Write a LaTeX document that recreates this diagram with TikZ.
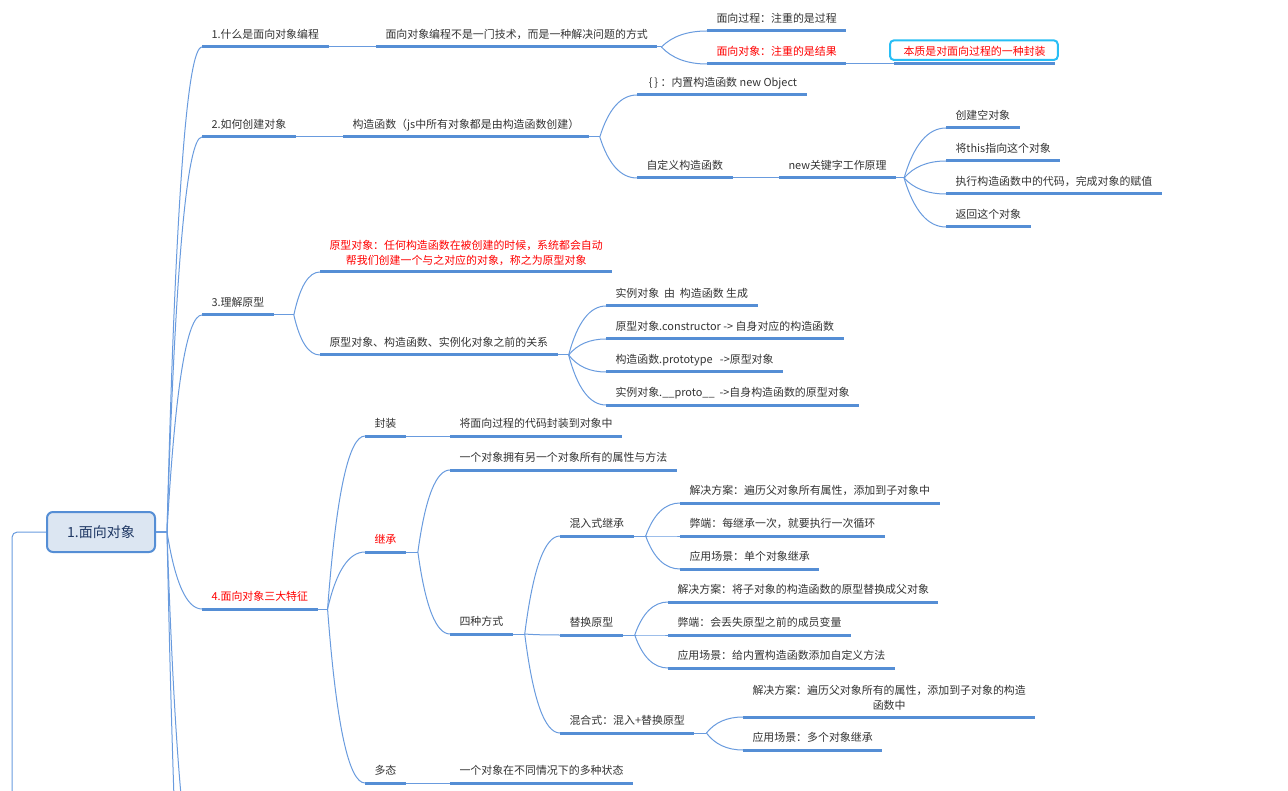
\documentclass[tikz,border=0pt]{standalone}
\usepackage{fontspec}
\newfontfamily\cjk{Noto Sans CJK SC}
\usetikzlibrary{calc}

\definecolor{ulblue}{RGB}{85,142,213}
\definecolor{lnblue}{RGB}{105,155,222}
\definecolor{ink}{RGB}{51,51,51}
\definecolor{hotred}{RGB}{255,0,0}
\definecolor{rootfill}{RGB}{220,230,242}
\definecolor{rootink}{RGB}{31,56,100}
\definecolor{hlcyan}{RGB}{40,190,245}

\tikzset{every picture/.style={line width=0.75pt}}
\tikzset{
  uline/.style={draw=ulblue, line width=2.25pt},
  topic/.style={anchor=south west, inner xsep=6.75pt, inner ysep=4.5pt,
    text height=7pt, text depth=1.5pt, text=ink, font=\cjk\fontsize{8.2}{11.25}\selectfont,
    append after command={\pgfextra{\let\topicnode\tikzlastnode}
      (\topicnode.south west) edge[uline] (\topicnode.south east)}},
  twoline/.style={align=center, text height=, text depth=},
  redtext/.style={text=hotred},
  rootbox/.style={draw=ulblue, line width=1.5pt, fill=rootfill, rounded corners=4.5pt,
    minimum width=81pt, minimum height=30pt, text=rootink, font=\cjk\fontsize{10.5}{12}\selectfont},
  hlbox/.style={draw=hlcyan, line width=1.5pt, rounded corners=3pt},
  conn/.style={draw=lnblue, line width=0.75pt},
  branch/.style={to path={let \p1=(\tikztostart), \p2=(\tikztotarget) in
    .. controls ({\x1+0.233*(\x2-\x1)},{\y1+0.667*(\y2-\y1)}) and ({\x2-0.433*(\x2-\x1)},\y2) .. (\p2)}}
}

\begin{document}
\begin{tikzpicture}[x=0.75pt,y=0.75pt,yscale=-1,xscale=1]
%diagram window 1288 x 791
\clip (0,0) rectangle (1288,791);

% Root Node
\draw (101,532) node [rootbox] (root) {1.面向对象};

% Text Node
\draw (202,47) node [topic] (b1) {1.什么是面向对象编程};
% Text Node
\draw (376,47) node [topic] (b1a) {面向对象编程不是一门技术，而是一种解决问题的方式};
% Text Node
\draw (707,31) node [topic] (b1a1) {面向过程：注重的是过程};
% Text Node
\draw (707,64) node [topic, redtext] (b1a2) {面向对象：注重的是结果};
% Text Node
\draw (894,64) node [topic, redtext] (ess) {本质是对面向过程的一种封装};
%Shape: Rectangle
\draw [hlbox] ([xshift=-3pt,yshift=-3pt]ess.south west) rectangle ([xshift=2pt,yshift=0.5pt]ess.north east);

% Text Node
\draw (202,137) node [topic] (b2) {2.如何创建对象};
% Text Node
\draw (343,137) node [topic] (b2a) {构造函数（js中所有对象都是由构造函数创建）};
% Text Node
\draw (637,95) node [topic] (b2a1) {\ \{\,\}\ ：内置构造函数 new Object};
% Text Node
\draw (637,178) node [topic] (b2a2) {自定义构造函数};
% Text Node
\draw (779,178) node [topic] (b2a2a) {new关键字工作原理};
% Text Node
\draw (946,128) node [topic] (w1) {创建空对象};
% Text Node
\draw (946,161) node [topic] (w2) {将this指向这个对象};
% Text Node
\draw (946,194) node [topic] (w3) {执行构造函数中的代码，完成对象的赋值};
% Text Node
\draw (946,227) node [topic] (w4) {返回这个对象};

% Text Node
\draw (202,315) node [topic] (b3) {3.理解原型};
% Text Node
\draw (320,272) node [topic, twoline, redtext] (b3a) {原型对象：任何构造函数在被创建的时候，系统都会自动\\帮我们创建一个与之对应的对象，称之为原型对象};
% Text Node
\draw (320,355) node [topic] (b3b) {原型对象、构造函数、实例化对象之前的关系};
% Text Node
\draw (606,306) node [topic] (r1) {实例对象~~由~~构造函数 生成};
% Text Node
\draw (606,339) node [topic] (r2) {原型对象.constructor -> 自身对应的构造函数};
% Text Node
\draw (606,372) node [topic] (r3) {构造函数.prototype~~~->原型对象};
% Text Node
\draw (606,405) node [topic] (r4) {实例对象.\_\_proto\_\_~~->自身构造函数的原型对象};

% Text Node
\draw (202,609) node [topic, redtext] (b4) {4.面向对象三大特征};
% Text Node
\draw (365,436) node [topic] (b4a) {封装};
% Text Node
\draw (450,436) node [topic] (b4a1) {将面向过程的代码封装到对象中};
% Text Node
\draw (365,552) node [topic, redtext] (b4b) {继承};
% Text Node
\draw (450,470) node [topic] (b4b1) {一个对象拥有另一个对象所有的属性与方法};
% Text Node
\draw (450,634) node [topic] (b4b2) {四种方式};
% Text Node
\draw (560,536) node [topic] (m1) {混入式继承};
% Text Node
\draw (680,503) node [topic] (m1a) {解决方案：遍历父对象所有属性，添加到子对象中};
% Text Node
\draw (680,536) node [topic] (m1b) {弊端：每继承一次，就要执行一次循环};
% Text Node
\draw (680,569) node [topic] (m1c) {应用场景：单个对象继承};
% Text Node
\draw (560,635) node [topic] (m2) {替换原型};
% Text Node
\draw (668,602) node [topic] (m2a) {解决方案：将子对象的构造函数的原型替换成父对象};
% Text Node
\draw (668,635) node [topic] (m2b) {弊端：会丢失原型之前的成员变量};
% Text Node
\draw (668,668) node [topic] (m2c) {应用场景：给内置构造函数添加自定义方法};
% Text Node
\draw (560,733) node [topic] (m3) {混合式：混入+替换原型};
% Text Node
\draw (743,717) node [topic, twoline] (m3a) {解决方案：遍历父对象所有的属性，添加到子对象的构造\\函数中};
% Text Node
\draw (743,750) node [topic] (m3b) {应用场景：多个对象继承};
% Text Node
\draw (365,783) node [topic] (b4c) {多态};
% Text Node
\draw (450,783) node [topic] (b4c1) {一个对象在不同情况下的多种状态};

%Curve Lines: root
\coordinate (up) at (12,800);
\coordinate (b5) at (202,895);
\coordinate (b6) at (202,1124);
\draw [conn, rounded corners=4] (root.west) -- (12,532) -- (up);
\draw [conn, line width=1.5pt] (root.east) -- ++(11,0) coordinate (rootfork);
\draw [conn] (rootfork) to [branch] (b1.south west);
\draw [conn] (rootfork) to [branch] (b2.south west);
\draw [conn] (rootfork) to [branch] (b3.south west);
\draw [conn] (rootfork) to [branch] (b4.south west);
\draw [conn] (rootfork) to [branch] (b5);
\draw [conn] (rootfork) to [branch] (b6);

%Curve Lines: 1
\draw [conn] (b1.south east) -- (b1a.south west);
\draw [conn] (b1a.south east) -- ++(4,0) coordinate (f1a);
\draw [conn] (f1a) to [branch] (b1a1.south west);
\draw [conn] (f1a) to [branch] (b1a2.south west);
\draw [conn] (b1a2.south east) -- (ess.south west);

%Curve Lines: 2
\draw [conn] (b2.south east) -- (b2a.south west);
\draw [conn] (b2a.south east) -- ++(11,0) coordinate (f2a);
\draw [conn] (f2a) to [branch] (b2a1.south west);
\draw [conn] (f2a) to [branch] (b2a2.south west);
\draw [conn] (b2a2.south east) -- (b2a2a.south west);
\draw [conn] (b2a2a.south east) -- ++(8,0) coordinate (f2b);
\draw [conn] (f2b) to [branch] (w1.south west);
\draw [conn] (f2b) to [branch] (w2.south west);
\draw [conn] (f2b) to [branch] (w3.south west);
\draw [conn] (f2b) to [branch] (w4.south west);

%Curve Lines: 3
\draw [conn] (b3.south east) -- ++(20,0) coordinate (f3);
\draw [conn] (f3) to [branch] (b3a.south west);
\draw [conn] (f3) to [branch] (b3b.south west);
\draw [conn] (b3b.south east) -- ++(11,0) coordinate (f3b);
\draw [conn] (f3b) to [branch] (r1.south west);
\draw [conn] (f3b) to [branch] (r2.south west);
\draw [conn] (f3b) to [branch] (r3.south west);
\draw [conn] (f3b) to [branch] (r4.south west);

%Curve Lines: 4
\draw [conn] (b4.south east) -- ++(10,0) coordinate (f4);
\draw [conn] (f4) to [branch] (b4a.south west);
\draw [conn] (f4) to [branch] (b4b.south west);
\draw [conn] (f4) to [branch] (b4c.south west);
\draw [conn] (b4a.south east) -- (b4a1.south west);
\draw [conn] (b4c.south east) -- (b4c1.south west);
\draw [conn] (b4b.south east) -- ++(12,0) coordinate (f4b);
\draw [conn] (f4b) to [branch] (b4b1.south west);
\draw [conn] (f4b) to [branch] (b4b2.south west);
\draw [conn] (b4b2.south east) -- ++(12,0) coordinate (f4c);
\draw [conn] (f4c) to [branch] (m1.south west);
\draw [conn] (f4c) to [branch] (m2.south west);
\draw [conn] (f4c) to [branch] (m3.south west);
\draw [conn] (m1.south east) -- ++(12,0) coordinate (fm1);
\draw [conn] (fm1) to [branch] (m1a.south west);
\draw [conn] (fm1) to [branch] (m1b.south west);
\draw [conn] (fm1) to [branch] (m1c.south west);
\draw [conn] (m2.south east) -- ++(12,0) coordinate (fm2);
\draw [conn] (fm2) to [branch] (m2a.south west);
\draw [conn] (fm2) to [branch] (m2b.south west);
\draw [conn] (fm2) to [branch] (m2c.south west);
\draw [conn] (m3.south east) -- ++(12,0) coordinate (fm3);
\draw [conn] (fm3) to [branch] (m3a.south west);
\draw [conn] (fm3) to [branch] (m3b.south west);
\end{tikzpicture}
\end{document}
